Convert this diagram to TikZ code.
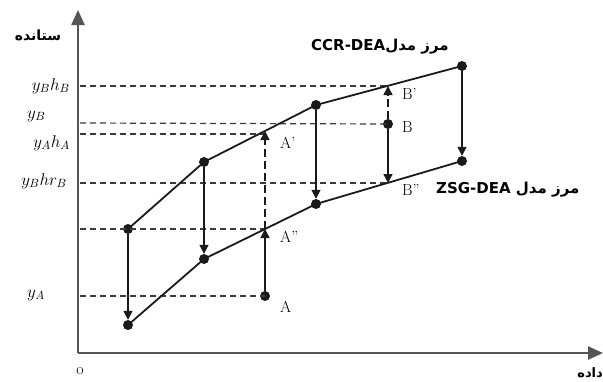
\RequirePackage{fix-cm}
\documentclass[tikz,border=0pt]{standalone}
\usepackage{fontspec}
\newfontfamily\arabicfont[Script=Arabic]{DejaVu Sans Bold}
\TeXXeTstate=1
\usetikzlibrary{arrows.meta}
\definecolor{ink}{HTML}{1A1A1A}
\definecolor{axisgray}{HTML}{555555}
\definecolor{dashgray}{HTML}{3C3C3C}
\begin{document}
\begin{tikzpicture}[x=1pt,y=-1pt,
 frontier/.style={ink, line width=1.8pt},
 dot/.style={circle, fill=ink, inner sep=0pt, minimum size=10pt},
 vec/.style={ink, line width=1.6pt, -{Triangle[width=9pt,length=9pt]}},
 dvec/.style={vec, dash pattern=on 8pt off 4pt},
 guide/.style={dashgray, line width=1.2pt, dash pattern=on 6pt off 4pt},
 ptlabel/.style={font=\fontsize{16}{17}\selectfont, anchor=west, inner sep=0pt},
 ylab/.style={font=\fontsize{17}{19}\selectfont, inner sep=0pt},
 axisline/.style={axisgray, line width=2.4pt, -{Triangle[width=13pt,length=15pt]}},
 fa/.style={font=\arabicfont\fontsize{15}{17}\selectfont, inner sep=0pt}
]
\useasboundingbox (0,0) rectangle (603,381);
% axes
\coordinate (O) at (78,353);
\coordinate (ytop) at (78,10);
\coordinate (xend) at (603,353);
\draw[axisline] (O) -- (ytop);
\draw[axisline] (O) -- (xend);
% frontier points
\node[dot] (P1) at (128,229) {};
\node[dot] (P2) at (204,162) {};
\node[dot] (P3) at (316,105) {};
\node[dot] (P4) at (462,66) {};
\node[dot] (Q1) at (128,325) {};
\node[dot] (Q2) at (204,259) {};
\node[dot] (Q3) at (316,204) {};
\node[dot] (Q4) at (462,161) {};
\node[dot] (A) at (265,296) {};
\node[dot] (B) at (388,124) {};
\coordinate (Ap) at (265,131);
\coordinate (App) at (265,229);
\coordinate (Bp) at (388,86);
\coordinate (Bpp) at (388,183);
% guide lines
\coordinate (g1) at (80,86);
\coordinate (g2) at (80,123);
\coordinate (g3) at (80,134);
\coordinate (g4) at (80,183);
\coordinate (g5) at (80,229);
\coordinate (g6) at (80,296);
\coordinate (Apg) at (265,134);
\draw[guide] (g1) -- (Bp);
\draw[guide] (g2) -- (B.center);
\draw[guide] (g3) -- (Apg);
\draw[guide] (g4) -- (Bpp);
\draw[guide] (g5) -- (App);
\draw[guide] (g6) -- (A.center);
% frontiers
\draw[frontier] (P1.center) -- (P2.center) -- (P3.center) -- (P4.center);
\draw[frontier] (Q1.center) -- (Q2.center) -- (Q3.center) -- (Q4.center);
% vertical arrows
\draw[vec] (P1) -- (Q1);
\draw[vec] (P2) -- (Q2);
\draw[vec] (P3) -- (Q3);
\draw[vec] (P4) -- (Q4);
\draw[vec] (A) -- (App);
\draw[dvec] (App) -- (Ap);
\draw[dvec] (B) -- (Bp);
\draw[vec] (B) -- (Bpp);
% point labels
\node[ptlabel] (lAp) at (280,143) {A'};
\node[ptlabel] (lApp) at (280,237) {A''};
\node[ptlabel] (lA) at (280,307) {A};
\node[ptlabel] (lBp) at (402,94) {B'};
\node[ptlabel] (lB) at (402,127) {B};
\node[ptlabel] (lBpp) at (402,190) {B''};
% axis value labels
\node[ylab, anchor=east] (tBhB) at (70,86) {$y_B h_B$};
\node[ylab, anchor=west] (tB) at (27,116) {$y_B$};
\node[ylab, anchor=east] (tAhA) at (70,143) {$y_A h_A$};
\node[ylab, anchor=east] (tBhrB) at (67,181) {$y_B hr_B$};
\node[ylab, anchor=west] (tA) at (27,295) {$y_A$};
\node[ptlabel, anchor=center] (tO) at (80,371) {o};
% titles
\node[fa, font=\arabicfont\fontsize{14}{16}\selectfont] (tout) at (38,35) {\beginR ستانده\endR};
\node[fa, font=\arabicfont\fontsize{13}{15}\selectfont, anchor=east] (tin) at (603,373) {\beginR داده\endR};
\node[fa, anchor=west] (tccr) at (311,47) {CCR-DEA\beginR مرز مدل\endR};
\node[fa, anchor=west] (tzsg) at (436,190) {ZSG-DEA \beginR مرز مدل\endR};
\end{tikzpicture}
\end{document}
